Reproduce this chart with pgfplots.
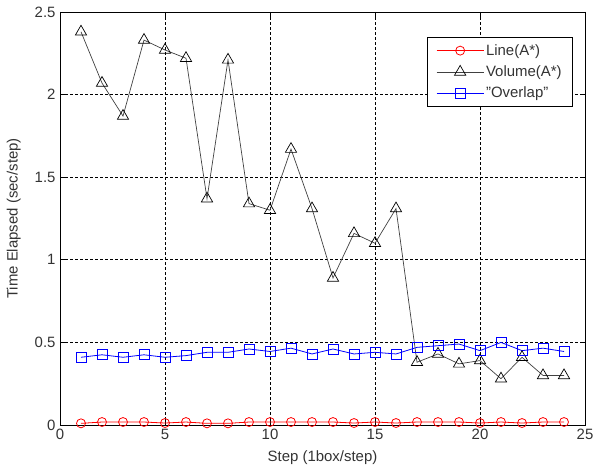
\documentclass[border=0pt]{standalone}
\usepackage{pgfplots}
\pgfplotsset{compat=1.18}
\usepackage{fontspec}
\setmainfont{Liberation Sans}
\begin{document}
\begin{tikzpicture}[x=1bp,y=1bp]
\useasboundingbox (-60,-45) rectangle (534,425);
\begin{axis}[
  at={(0,0)}, anchor=south west,
  scale only axis,
  width=525bp, height=413bp,
  xmin=0, xmax=25, ymin=0, ymax=2.5,
  xtick={0,5,10,15,20,25},
  ytick={0,0.5,1,1.5,2,2.5},
  yticklabels={0,0.5,1,1.5,2,2.5},
  xticklabels={0,5,10,15,20,25},
  tick align=inside,
  tick pos=both,
  major tick length=5bp,
  grid=major,
  major grid style={black, dash pattern=on 2.5bp off 2.5bp, line width=0.6pt},
  axis line style={black, line width=0.6pt},
  tick style={black, line width=0.6pt},
  ticklabel style={font=\fontsize{15}{17}\selectfont, text=black!80},
  xticklabel style={yshift=-1bp},
  yticklabel style={xshift=-1bp},
  xlabel={Step (1box/step)},
  ylabel={Time Elapsed (sec/step)},
  label style={font=\fontsize{15}{17}\selectfont, text=black!80},
  xlabel style={at={(axis description cs:0.5,-0.08)}, anchor=center},
  ylabel style={at={(axis description cs:-0.088,0.5)}, anchor=center},
  legend style={at={(0.977,0.939)}, anchor=north east, draw=black, line width=0.6pt,
    font=\fontsize{15}{17}\selectfont, text=black!80, row sep=5bp, inner xsep=9bp, inner ysep=5bp},
  legend cell align=left,
  legend image code/.code={
    \draw[#1, mark repeat=2, mark phase=2] plot coordinates {(0bp,0bp) (23.5bp,0bp) (47bp,0bp)};
  },
]
\addplot[red, line width=0.8pt, mark=o, mark size=4.5bp, mark options={solid}] coordinates {
(1,0.010) (2,0.018) (3,0.018) (4,0.018) (5,0.012) (6,0.018) (7,0.010) (8,0.010)
(9,0.018) (10,0.018) (11,0.018) (12,0.018) (13,0.018) (14,0.012) (15,0.018) (16,0.012)
(17,0.018) (18,0.018) (19,0.018) (20,0.012) (21,0.018) (22,0.012) (23,0.018) (24,0.018)};
\addlegendentry{Line(A*)}
\addplot[black!75, line width=0.7pt, mark=triangle, mark size=6.5bp, mark options={black, solid}] coordinates {
(1,2.38) (2,2.07) (3,1.87) (4,2.33) (5,2.27) (6,2.22) (7,1.37) (8,2.21)
(9,1.34) (10,1.30) (11,1.67) (12,1.31) (13,0.89) (14,1.16) (15,1.10) (16,1.31)
(17,0.38) (18,0.43) (19,0.37) (20,0.39) (21,0.28) (22,0.41) (23,0.30) (24,0.30)};
\addlegendentry{Volume(A*)}
\addplot[blue, line width=0.8pt, mark=square, mark size=5bp, mark options={solid}] coordinates {
(1,0.41) (2,0.425) (3,0.41) (4,0.425) (5,0.41) (6,0.42) (7,0.44) (8,0.44)
(9,0.46) (10,0.445) (11,0.465) (12,0.43) (13,0.46) (14,0.43) (15,0.44) (16,0.43)
(17,0.47) (18,0.48) (19,0.49) (20,0.45) (21,0.50) (22,0.45) (23,0.465) (24,0.445)};
\addlegendentry{"Overlap"}
\end{axis}
\end{tikzpicture}
\end{document}
